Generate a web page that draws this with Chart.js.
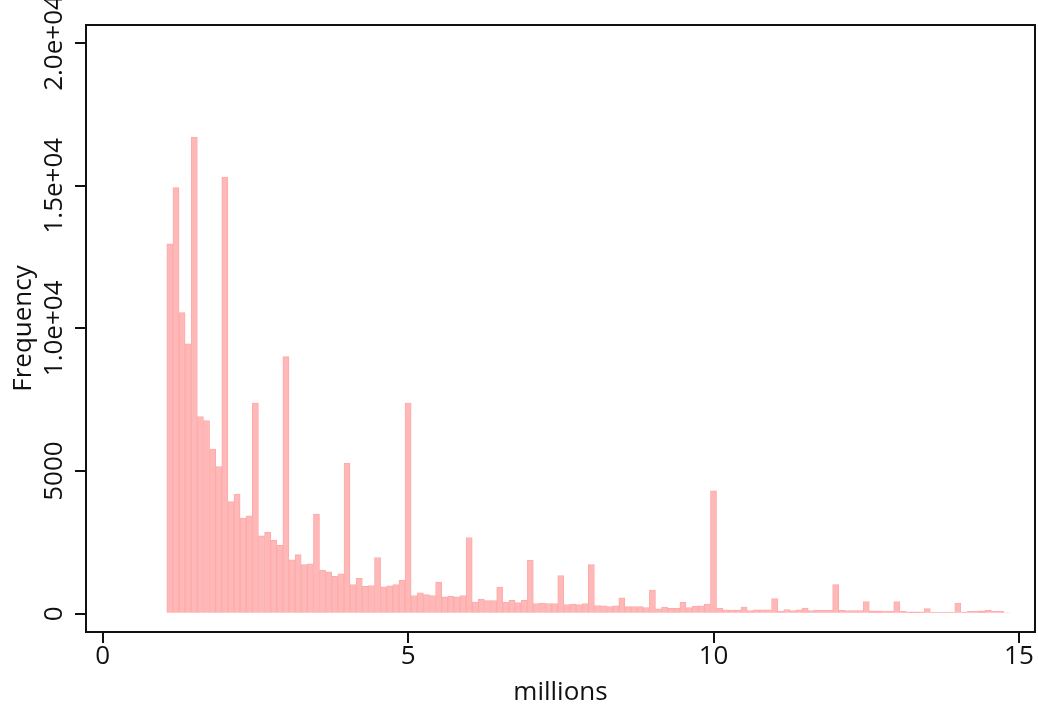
<!DOCTYPE html>
<html>
<head>
<meta charset="utf-8">
<script src="https://cdn.jsdelivr.net/npm/chart.js@4.4.1/dist/chart.umd.min.js"></script>
<style>
  html, body { margin: 0; padding: 0; background: #fff; }
</style>
</head>
<body>
<canvas id="grafico" width="1038" height="706"></canvas>
<script>
// centros de cada barra (millones)
const centros = [
  1.1, 1.2, 1.3, 1.4, 1.5, 1.6, 1.7, 1.8, 1.9, 2.0,
  2.1, 2.2, 2.3, 2.4, 2.5, 2.6, 2.7, 2.8, 2.9, 3.0,
  3.1, 3.2, 3.3, 3.4, 3.5, 3.6, 3.7, 3.8, 3.9, 4.0,
  4.1, 4.2, 4.3, 4.4, 4.5, 4.6, 4.7, 4.8, 4.9, 5.0,
  5.1, 5.2, 5.3, 5.4, 5.5, 5.6, 5.7, 5.8, 5.9, 6.0,
  6.1, 6.2, 6.3, 6.4, 6.5, 6.6, 6.7, 6.8, 6.9, 7.0,
  7.1, 7.2, 7.3, 7.4, 7.5, 7.6, 7.7, 7.8, 7.9, 8.0,
  8.1, 8.2, 8.3, 8.4, 8.5, 8.6, 8.7, 8.8, 8.9, 9.0,
  9.1, 9.2, 9.3, 9.4, 9.5, 9.6, 9.7, 9.8, 9.9, 10.0,
  10.1, 10.2, 10.3, 10.4, 10.5, 10.6, 10.7, 10.8, 10.9, 11.0,
  11.1, 11.2, 11.3, 11.4, 11.5, 11.6, 11.7, 11.8, 11.9, 12.0,
  12.1, 12.2, 12.3, 12.4, 12.5, 12.6, 12.7, 12.8, 12.9, 13.0,
  13.1, 13.2, 13.3, 13.4, 13.5, 13.6, 13.7, 13.8, 13.9, 14.0,
  14.1, 14.2, 14.3, 14.4, 14.5, 14.6, 14.7, 14.8
];

// frecuencias
const frecuencias = [
  12960, 14930, 10550, 9460, 16700, 6910, 6770, 5770, 5160, 15300,
  3930, 4190, 3350, 3430, 7380, 2730, 2850, 2570, 2400, 9010,
  1890, 2070, 1720, 1750, 3490, 1530, 1470, 1310, 1400, 5280,
  1020, 1240, 960, 990, 1970, 940, 980, 1020, 1170, 7380,
  640, 730, 670, 640, 1110, 590, 610, 590, 640, 2670,
  410, 510, 460, 460, 930, 410, 470, 390, 470, 1870,
  360, 370, 360, 360, 1340, 320, 340, 320, 360, 1720,
  290, 280, 250, 280, 560, 250, 250, 250, 220, 830,
  170, 230, 190, 190, 400, 220, 260, 280, 340, 4310,
  200, 140, 130, 130, 230, 110, 140, 140, 140, 530,
  80, 150, 110, 140, 200, 110, 120, 120, 120, 1020,
  120, 110, 110, 110, 430, 100, 100, 90, 80, 430,
  80, 70, 70, 70, 180, 60, 60, 60, 60, 370,
  60, 80, 90, 100, 120, 90, 80, 30
];

const marcasX = [0, 5, 10, 15];
const etiquetasX = ["0", "5", "10", "15"];
const marcasY = [0, 5000, 10000, 15000, 20000];
const etiquetasY = ["0", "5000", "1.0e+04", "1.5e+04", "2.0e+04"];

const fuente = { family: "'Open Sans', sans-serif", size: 26 };

const marco = {
  id: "marco",
  afterDatasetsDraw(chart) {
    const { ctx, chartArea } = chart;
    ctx.save();
    ctx.strokeStyle = "#111";
    ctx.lineWidth = 2;
    ctx.strokeRect(chartArea.left, chartArea.top,
      chartArea.right - chartArea.left, chartArea.bottom - chartArea.top);
    ctx.restore();
  }
};

const contexto = document.getElementById("grafico").getContext("2d");

new Chart(contexto, {
  type: "bar",
  data: {
    datasets: [{
      data: centros.map((c, i) => ({ x: c, y: frecuencias[i] })),
      backgroundColor: "#ffb8b8",
      borderColor: "#ffaaaa",
      borderWidth: 1,
      barPercentage: 1,
      categoryPercentage: 1
    }]
  },
  options: {
    responsive: false,
    devicePixelRatio: 1,
    animation: false,
    layout: { padding: { top: 25, right: 3, left: 0, bottom: 0 } },
    plugins: { legend: { display: false }, tooltip: { enabled: false } },
    scales: {
      x: {
        type: "linear",
        offset: false,
        min: -0.273,
        max: 15.263,
        afterBuildTicks: (s) => { s.ticks = marcasX.map((v) => ({ value: v })); },
        afterFit: (s) => { s.height = 74; s.paddingLeft = 0; s.paddingRight = 0; },
        ticks: {
          color: "#111",
          font: fuente,
          padding: -2,
          maxRotation: 0,
          callback: (v) => etiquetasX[marcasX.indexOf(v)]
        },
        grid: { offset: false, drawOnChartArea: false, color: "#111", lineWidth: 2, tickLength: 11 },
        border: { display: false },
        title: { display: true, text: "millions", color: "#111", font: fuente, padding: { top: 0, bottom: -2 } }
      },
      y: {
        min: -640,
        max: 20630,
        afterBuildTicks: (s) => { s.ticks = marcasY.map((v) => ({ value: v })); },
        afterFit: (s) => { s.width = 86; s.paddingTop = 0; s.paddingBottom = 0; },
        ticks: {
          color: "#111",
          font: fuente,
          minRotation: 90,
          maxRotation: 90,
          crossAlign: "center",
          padding: -27,
          callback: (v) => etiquetasY[marcasY.indexOf(v)]
        },
        grid: { drawOnChartArea: false, color: "#111", lineWidth: 2, tickLength: 11 },
        border: { display: false },
        title: { display: true, text: "Frequency", color: "#111", font: fuente, padding: { top: 8, bottom: 0 } }
      }
    }
  },
  plugins: [marco]
});
</script>
</body>
</html>
